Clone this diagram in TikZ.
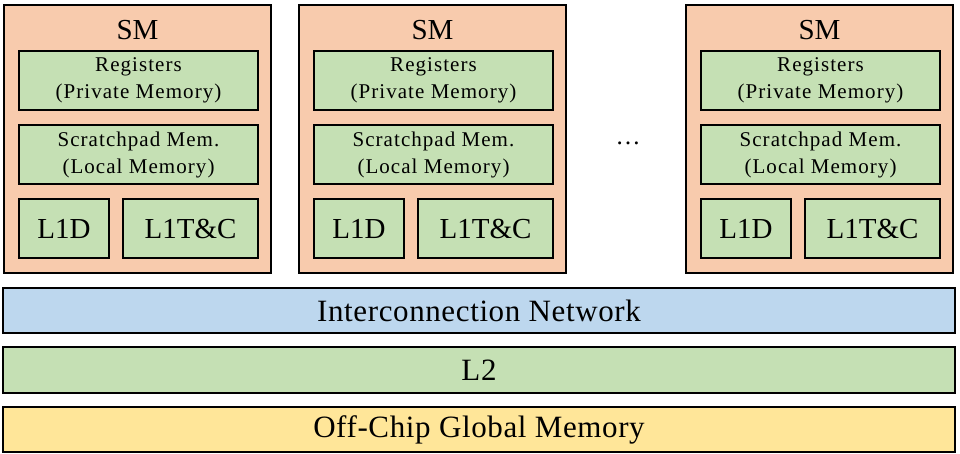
\documentclass[tikz,border=0pt]{standalone}
\usepackage{fontspec}
\setmainfont{Liberation Serif}
\newfontfamily\spacedfont[LetterSpace=5]{Liberation Serif}
\newfontfamily\barfont[LetterSpace=2]{Liberation Serif}
\usetikzlibrary{calc, positioning}

\definecolor{smfill}{HTML}{F8CBAD}
\definecolor{memfill}{HTML}{C5E0B4}
\definecolor{netfill}{HTML}{BDD7EE}
\definecolor{globfill}{HTML}{FFE699}

\tikzset{
  box/.style={draw=black, line width=1.8pt, inner sep=0pt, outer sep=0pt, anchor=north west},
  smbox/.style={box, fill=smfill, minimum width=267pt, minimum height=268pt},
  membox/.style={box, fill=memfill, minimum width=239pt, minimum height=59pt,
    align=center, font=\spacedfont\fontsize{21}{27}\selectfont},
  cachebox/.style={box, fill=memfill, minimum height=59pt, font=\fontsize{29}{32}\selectfont},
  barbox/.style={box, minimum width=952pt, minimum height=45pt, font=\barfont\fontsize{31}{34}\selectfont},
  smlabel/.style={anchor=base, inner sep=0pt, font=\fontsize{29}{32}\selectfont}
}

\begin{document}
\begin{tikzpicture}[x=1pt, y=-1pt]
        \useasboundingbox (0,0) rectangle (960,453);

        % SM blocks
        \foreach \x/\n in {4/1, 299/2, 686/3} {
            \node[smbox] (sm\n) at (\x,5) {};
            \node[smlabel] at ($(sm\n.north) + (0,34)$) {SM};

            % Memories inside the SM
            \node[membox] (reg\n) at (\x+15,51) {Registers\\(Private Memory)};
            \node[membox] (pad\n) at (\x+15,125) {Scratchpad Mem.\\(Local Memory)};

            % L1 caches
            \node[cachebox, minimum width=90pt] (lod\n) at (\x+15,199) {L1D};
            \node[cachebox, minimum width=135pt] (ltc\n) at (\x+119,199) {L1T\&C};
        }

        % Dots between SMs
        \node[inner sep=0pt, font=\fontsize{25}{28}\selectfont] (dots) at (628,143) {…};

        % Shared levels
        \node[barbox, fill=netfill] (net) at (3,288) {Interconnection Network};
        \node[barbox, fill=memfill, minimum height=46pt, below=14pt of net.south west, anchor=north west] (ltwo) {L2};
        \node[barbox, fill=globfill, below=14pt of ltwo.south west, anchor=north west] (glob) {Off-Chip Global Memory};
    \end{tikzpicture}
\end{document}
